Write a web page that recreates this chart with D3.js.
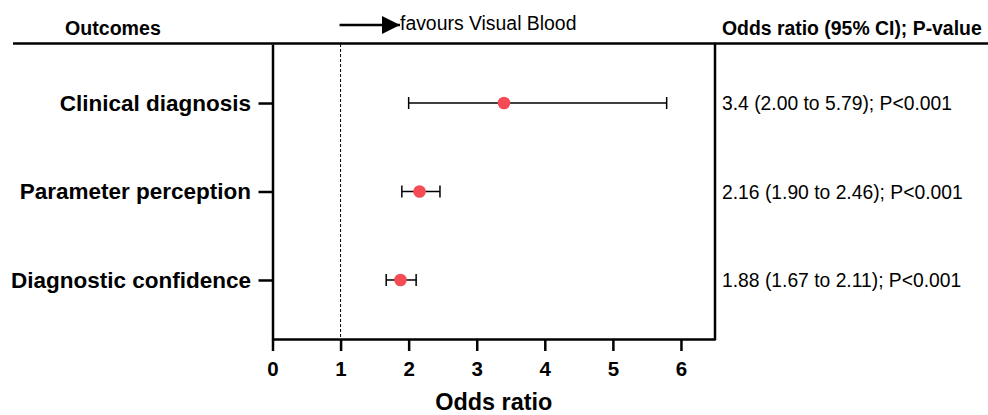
<!DOCTYPE html>
<html>
<head>
<meta charset="utf-8">
<script src="https://cdn.jsdelivr.net/npm/d3@7"></script>
<style>
  html, body { margin: 0; padding: 0; background: #fff; }
  svg { display: block; font-family: "Liberation Sans", Arial, Helvetica, sans-serif; }
</style>
</head>
<body>
<svg id="chart" width="988" height="415"></svg>
<script>
const outcomes = ["Clinical diagnosis", "Parameter perception", "Diagnostic confidence"];
const oddsRatio = [3.4, 2.16, 1.88];
const ciLower = [2.00, 1.90, 1.67];
const ciUpper = [5.79, 2.46, 2.11];
const resultLabels = [
  "3.4 (2.00 to 5.79); P<0.001",
  "2.16 (1.90 to 2.46); P<0.001",
  "1.88 (1.67 to 2.11); P<0.001"
];
const xTicks = [0, 1, 2, 3, 4, 5, 6];
const xDomain = [0, 6.5];
const refLine = 1;

(function () {
const svg = d3.select("#chart");
const pLeft = 272.5, pRight = 715, pTop = 44, pBottom = 339;

const x = d3.scaleLinear().domain(xDomain).range([pLeft, pRight]);
const y = d3.scalePoint().domain(outcomes).range([pTop, pBottom]).padding(0.667);

// Header line
svg.append("line")
  .attr("x1", 13).attr("x2", 988).attr("y1", 43.5).attr("y2", 43.5)
  .attr("stroke", "#000").attr("stroke-width", 2.5);

// Headers
svg.append("text").attr("x", 65).attr("y", 34.5)
  .attr("font-size", 19.6).attr("font-weight", "bold").text("Outcomes");
svg.append("text").attr("x", 722).attr("y", 34.5)
  .attr("font-size", 19.4).attr("font-weight", "bold").text("Odds ratio (95% CI); P-value");

// Arrow "favours Visual Blood"
svg.append("defs").append("marker")
  .attr("id", "arrowhead").attr("viewBox", "0 0 10 10")
  .attr("refX", 10).attr("refY", 5)
  .attr("markerUnits", "userSpaceOnUse")
  .attr("markerWidth", 25).attr("markerHeight", 18)
  .attr("orient", "auto")
  .append("path").attr("d", "M0,0 L10,5 L0,10 Z").attr("fill", "#000");
svg.append("line")
  .attr("x1", x(refLine) - 1).attr("x2", 400).attr("y1", 25).attr("y2", 25)
  .attr("stroke", "#000").attr("stroke-width", 2.5)
  .attr("marker-end", "url(#arrowhead)");
svg.append("text").attr("x", 400).attr("y", 30)
  .attr("font-size", 19.4).text("favours Visual Blood");

// Reference dashed line
svg.append("line")
  .attr("x1", x(refLine)).attr("x2", x(refLine)).attr("y1", pTop).attr("y2", pBottom)
  .attr("stroke", "#000").attr("stroke-width", 1).attr("stroke-dasharray", "3,2");

// Right border
svg.append("line")
  .attr("x1", pRight).attr("x2", pRight).attr("y1", pTop).attr("y2", pBottom + 1.25)
  .attr("stroke", "#000").attr("stroke-width", 2.5);

// X axis
const xAxis = svg.append("g").attr("transform", `translate(0,${pBottom})`)
  .call(d3.axisBottom(x).tickValues(xTicks).tickFormat(d3.format("d")).tickSizeInner(12).tickSizeOuter(0).tickPadding(10.5));
xAxis.select(".domain").attr("stroke-width", 2.5);
xAxis.selectAll(".tick line").attr("stroke-width", 2.5);
xAxis.selectAll(".tick text").attr("font-size", 20.5).attr("font-weight", "bold")
  .attr("font-family", "Liberation Sans, Arial, sans-serif").attr("fill", "#000");

// Y axis
const yAxis = svg.append("g").attr("transform", `translate(${pLeft},0)`)
  .call(d3.axisLeft(y).tickSizeInner(14).tickSizeOuter(0).tickPadding(7.5));
yAxis.select(".domain").attr("stroke-width", 2.5);
yAxis.selectAll(".tick line").attr("stroke-width", 2.5);
yAxis.selectAll(".tick text").attr("font-size", 22.5).attr("font-weight", "bold")
  .attr("font-family", "Liberation Sans, Arial, sans-serif").attr("fill", "#000");

// X axis title
svg.append("text").attr("x", (x(0) + x(6.5)) / 2).attr("y", 410)
  .attr("text-anchor", "middle").attr("font-size", 23.4).attr("font-weight", "bold")
  .text("Odds ratio");

// Error bars and points
const rows = outcomes.map((o, i) => ({ o, or: oddsRatio[i], lo: ciLower[i], hi: ciUpper[i], label: resultLabels[i] }));
const g = svg.append("g");
g.selectAll("line.ci").data(rows).join("line").attr("class", "ci")
  .attr("x1", d => x(d.lo)).attr("x2", d => x(d.hi))
  .attr("y1", d => y(d.o)).attr("y2", d => y(d.o))
  .attr("stroke", "#000").attr("stroke-width", 1.5);
g.selectAll("line.capL").data(rows).join("line").attr("class", "capL")
  .attr("x1", d => x(d.lo)).attr("x2", d => x(d.lo))
  .attr("y1", d => y(d.o) - 6).attr("y2", d => y(d.o) + 6)
  .attr("stroke", "#000").attr("stroke-width", 1.5);
g.selectAll("line.capR").data(rows).join("line").attr("class", "capR")
  .attr("x1", d => x(d.hi)).attr("x2", d => x(d.hi))
  .attr("y1", d => y(d.o) - 6).attr("y2", d => y(d.o) + 6)
  .attr("stroke", "#000").attr("stroke-width", 1.5);
g.selectAll("circle").data(rows).join("circle")
  .attr("cx", d => x(d.or)).attr("cy", d => y(d.o)).attr("r", 6.3)
  .attr("fill", "#f44b55");

// Right-side result labels
svg.selectAll("text.res").data(rows).join("text").attr("class", "res")
  .attr("x", 722).attr("y", d => y(d.o) + 7)
  .attr("font-size", 19.3).text(d => d.label);
})();
</script>
</body>
</html>
